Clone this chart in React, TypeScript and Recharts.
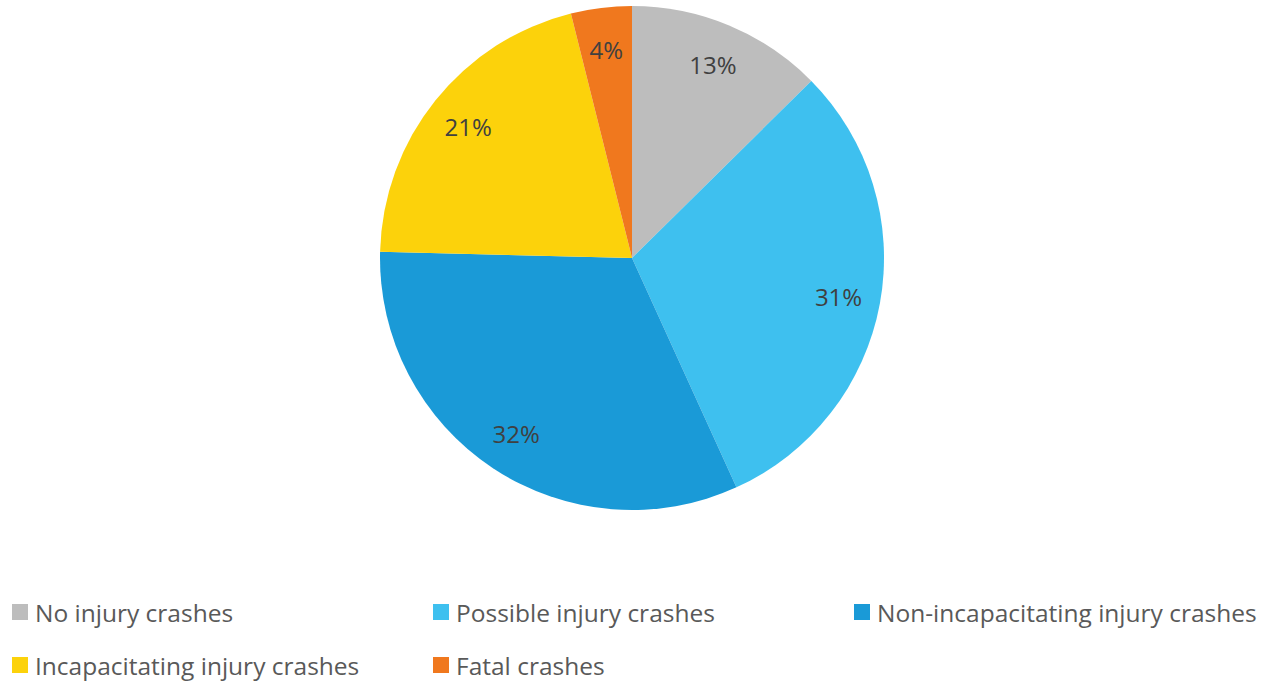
import { PieChart, Pie, Cell, Legend } from "recharts";

const categories = [
  "No injury crashes",
  "Possible injury crashes",
  "Non-incapacitating injury crashes",
  "Incapacitating injury crashes",
  "Fatal crashes",
];
const shares = [12.6, 30.6, 32.2, 20.7, 3.9];
const colors = ["#BDBDBD", "#3EC0EF", "#1A9AD7", "#FCD20B", "#F0781E"];

const data = categories.map((name, i) => ({ name, value: shares[i] }));

const RAD = Math.PI / 180;

const renderLabel = (props: any) => {
  const { cx, cy, midAngle, percent } = props;
  const r = 210;
  const x = cx + r * Math.cos(-midAngle * RAD);
  const y = cy + r * Math.sin(-midAngle * RAD);
  return (
    <text
      x={x}
      y={y}
      textAnchor="middle"
      dominantBaseline="central"
      fill="#404040"
      fontSize={24}
      fontFamily="'Open Sans', sans-serif"
    >
      {`${Math.round(percent * 100)}%`}
    </text>
  );
};

const colX = [12, 433, 854];
const rowY = [612, 665];

const LegendBlock = () => (
  <div style={{ position: "relative", width: 1272, height: 100 }}>
    {categories.map((name, i) => {
      const col = i % 3;
      const row = Math.floor(i / 3);
      return (
        <div
          key={name}
          style={{
            position: "absolute",
            left: colX[col],
            top: rowY[row] - 590 - 16,
            height: 32,
            display: "flex",
            alignItems: "center",
            fontFamily: "'Open Sans', sans-serif",
            fontSize: 24.5,
            color: "#595959",
            whiteSpace: "nowrap",
          }}
        >
          <span
            style={{
              display: "inline-block",
              width: 16,
              height: 16,
              background: colors[i],
              marginRight: 7,
            }}
          />
          {name}
        </div>
      );
    })}
  </div>
);

export default function App() {
  return (
    <div style={{ position: "absolute", left: 0, top: 0, background: "#fff" }}>
      <PieChart width={1272} height={683} margin={{ top: 0, right: 0, bottom: 0, left: 0 }}>
        <Pie
          data={data}
          dataKey="value"
          nameKey="name"
          cx={632}
          cy={258}
          outerRadius={252}
          startAngle={90}
          endAngle={-270}
          stroke="none"
          label={renderLabel}
          labelLine={false}
          isAnimationActive={false}
        >
          {data.map((d, i) => (
            <Cell key={d.name} fill={colors[i]} />
          ))}
        </Pie>
        <Legend
          content={() => <LegendBlock />}
          wrapperStyle={{ position: "absolute", left: 0, top: 590, width: 1272 }}
        />
      </PieChart>
    </div>
  );
}
